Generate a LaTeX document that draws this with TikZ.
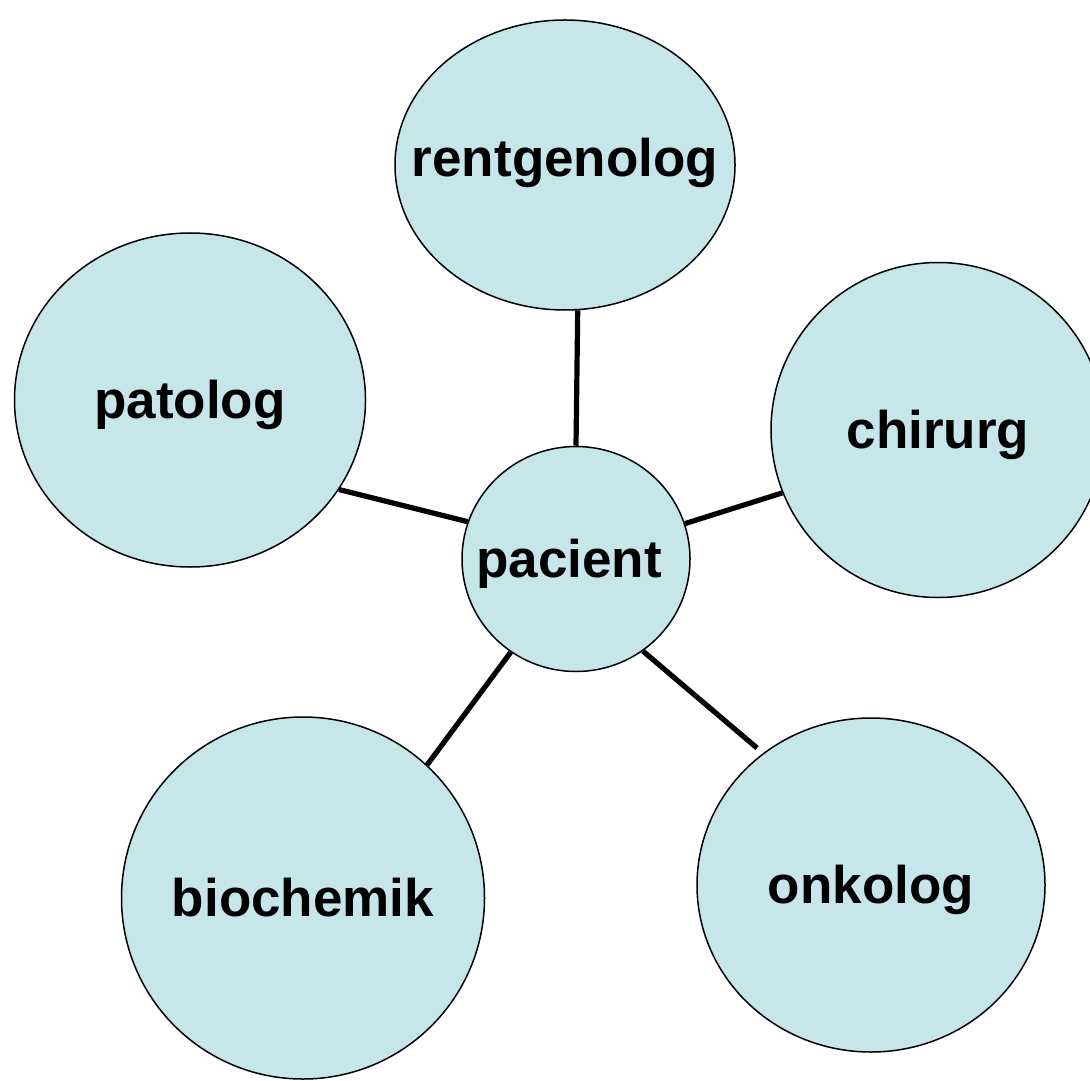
\documentclass[tikz,border=0pt]{standalone}
\usepackage{fontspec}
\setmainfont{Liberation Sans}
\usetikzlibrary{shapes.geometric}
\definecolor{bubble}{HTML}{C6E6EA}
\tikzset{
  bub/.style={ellipse,draw=black,line width=0.75pt,fill=bubble,inner sep=0pt,
    font=\fontsize{26.5}{30}\selectfont\bfseries},
  link/.style={line width=2.6pt,black}
}
% text with zero size, baseline placed #1 below the node centre
\newcommand{\bubtext}[2][-9pt]{\makebox[0pt][c]{\raisebox{#1}[0pt][0pt]{#2}}}
\begin{document}
\begin{tikzpicture}[x=0.5pt,y=-0.5pt]
\useasboundingbox (0,0) rectangle (1090,1080);
\clip (0,0) rectangle (1090,1080);
\fill[white] (0,0) rectangle (1090,1080);
\node[bub,minimum width=170pt,minimum height=145pt] (rent) at (565,165) {\bubtext[-6pt]{rentgenolog}};
\node[bub,minimum width=175.5pt,minimum height=167pt] (pat) at (190,400) {\bubtext{patolog}};
\node[bub,minimum width=167pt,minimum height=167.5pt] (chir) at (938,430) {\bubtext{chirurg}};
\node[bub,minimum width=114pt,minimum height=112.5pt] (pac) at (576,559) {\bubtext{pacient\hspace*{7pt}}};
\node[bub,minimum width=181.5pt,minimum height=181pt] (bio) at (303,898) {\bubtext{biochemik}};
\node[bub,minimum width=174pt,minimum height=167pt] (onk) at (871,885) {\bubtext{onkolog}};
\coordinate (onkend) at (757,748);
\draw[link] (rent.-85.3) -- (pac.north);
\draw[link] (pat.-31.6) -- (pac.161.6);
\draw[link] (pac.18.9) -- (chir.-158.4);
\draw[link] (pac.-125.4) -- (bio.47.9);
\draw[link] (pac.-54.3) -- (onkend);
\end{tikzpicture}
\end{document}
